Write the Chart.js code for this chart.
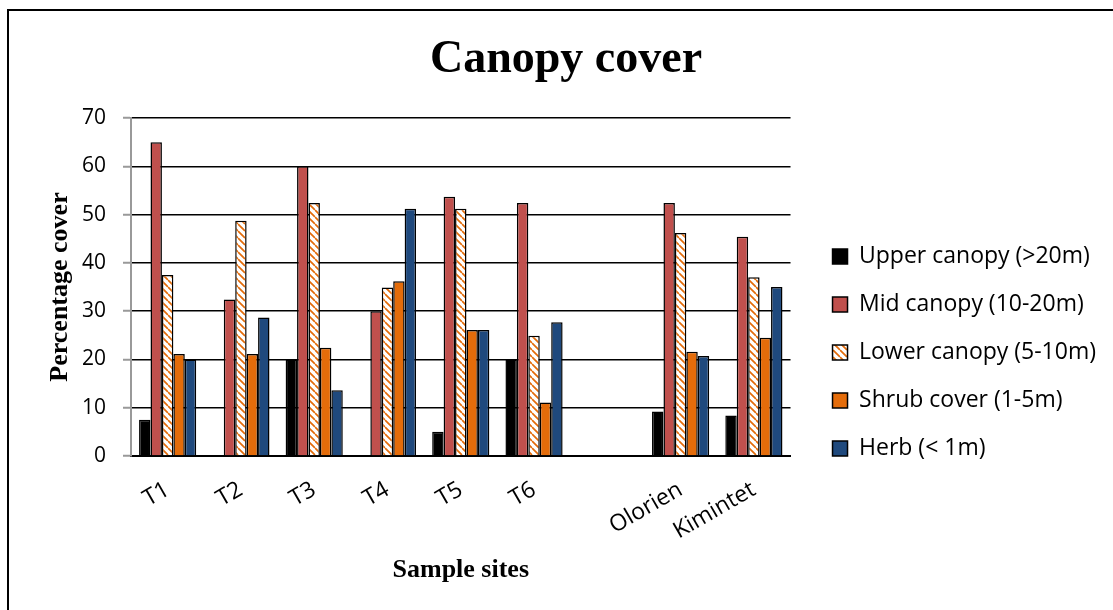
<!DOCTYPE html>
<html><head><meta charset="utf-8">
<script src="https://cdn.jsdelivr.net/npm/chart.js@4.4.1/dist/chart.umd.min.js"></script>
<style>
html,body{margin:0;padding:0;background:#fff;overflow:hidden;width:1113px;height:610px;}
#frame{position:absolute;left:7px;top:9px;width:1200px;height:700px;border:2px solid #000;box-sizing:border-box;}
#wrap{position:absolute;left:0;top:0;width:1113px;height:610px;}
</style></head><body>
<div id="frame"></div>
<div id="wrap"><canvas id="c" width="1113" height="610"></canvas></div>
<script>
const categories = ['T1','T2','T3','T4','T5','T6','','Olorien','Kimintet'];
const upperCanopy = [7.5, 0, 20, 0, 5, 20, null, 9.2, 8.4];
const midCanopy   = [65, 32.4, 60, 30, 53.7, 52.4, null, 52.4, 45.4];
const lowerCanopy = [37.5, 48.7, 52.4, 34.9, 51.2, 24.9, null, 46.2, 37.0];
const shrubCover  = [21.1, 21.1, 22.4, 36.2, 26.1, 11.1, null, 21.6, 24.5];
const herbCover   = [20, 28.7, 13.6, 51.2, 26.1, 27.7, null, 20.7, 35.0];
const seriesNames = ['Upper canopy (>20m)','Mid canopy (10-20m)','Lower canopy (5-10m)','Shrub cover (1-5m)','Herb (< 1m)'];
const yMin = 0, yMax = 70, yStep = 10;

function hatch(){
  const s = 7;
  const c = document.createElement('canvas'); c.width = s; c.height = s;
  const x = c.getContext('2d');
  x.fillStyle = '#fff'; x.fillRect(0,0,s,s);
  x.strokeStyle = '#E46C0A'; x.lineWidth = 1.7;
  x.beginPath();
  for (let k=-1;k<=1;k++){ x.moveTo(0,k*s); x.lineTo(s,s+k*s); }
  x.stroke();
  return x.createPattern(c,'repeat');
}

// layout sizing
const padLeft = 26, padRight = 7;
const legendFontSize = 23, legendBox = 15, legendPad = 25;
const mctx = document.createElement('canvas').getContext('2d');
mctx.font = legendFontSize + 'px "Open Sans"';
const maxText = Math.max(...seriesNames.map(t => mctx.measureText(t).width));
const legendWidth = Math.ceil(legendPad + legendBox + legendFontSize/2 + maxText + 10);
const plotLeft = 131, plotRight = 790;
const gapWidth = Math.max(0, 1113 - padRight - plotRight - legendWidth);

const common = {borderColor:'#000', borderWidth:1.5, categoryPercentage:0.78, barPercentage:1.0};
const ctx = document.getElementById('c').getContext('2d');
new Chart(ctx, {
  type:'bar',
  data:{
    labels: categories,
    datasets:[
      Object.assign({label:seriesNames[0], data:upperCanopy, backgroundColor:'#000000'}, common),
      Object.assign({label:seriesNames[1], data:midCanopy, backgroundColor:'#C0504D'}, common),
      Object.assign({label:seriesNames[2], data:lowerCanopy, backgroundColor:hatch()}, common),
      Object.assign({label:seriesNames[3], data:shrubCover, backgroundColor:'#E46C0A'}, common),
      Object.assign({label:seriesNames[4], data:herbCover, backgroundColor:'#1F497D'}, common)
    ]
  },
  options:{
    responsive:false, animation:false, devicePixelRatio:1,
    layout:{padding:{left:padLeft,right:padRight,top:0,bottom:0}},
    plugins:{
      title:{display:true, text:'Canopy cover', color:'#000',
        font:{family:'Liberation Serif', size:46, weight:'bold'},
        padding:{top:33,bottom:29.8}},
      legend:{position:'right', maxWidth:legendWidth,
        title:{display:true, text:' ', font:{size:12}, padding:{top:80.6,bottom:0}},
        labels:{color:'#000', font:{family:'Open Sans', size:legendFontSize}, boxWidth:legendBox, boxHeight:legendBox, padding:legendPad}},
      tooltip:{enabled:false}
    },
    scales:{
      x:{
        grid:{display:false},
        border:{display:true,color:'#000',width:2},
        ticks:{color:'#000', font:{family:'Open Sans', size:23}, minRotation:30, maxRotation:30, autoSkip:false, padding:12},
        title:{display:true, text:'Sample sites', color:'#000', font:{family:'Liberation Serif', size:26, weight:'bold'}, padding:{top:0,bottom:24}},
        afterFit: s => { s.height = 154; }
      },
      y:{
        min:yMin, max:yMax,
        ticks:{stepSize:yStep, color:'#000', font:{family:'Open Sans', size:21}, padding:17},
        grid:{color:'#000', lineWidth:1.5, tickColor:'#999', tickLength:8, tickWidth:2},
        border:{color:'#999', width:2},
        title:{display:true, text:'Percentage cover', color:'#000', font:{family:'Liberation Serif', size:26, weight:'bold'}, padding:{top:18.4,bottom:0}},
        afterFit: s => { s.width = plotLeft - padLeft; }
      },
      y2:{
        position:'right', display:true,
        grid:{display:false, drawTicks:false},
        border:{display:false},
        ticks:{display:false},
        afterFit: s => { s.width = gapWidth; }
      }
    }
  }
});
</script>
</body></html>
